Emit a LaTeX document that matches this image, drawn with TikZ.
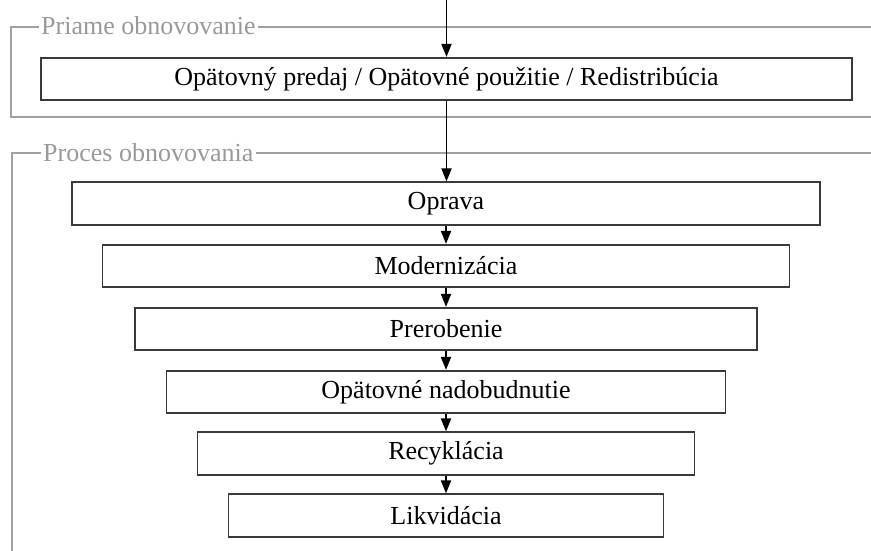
\documentclass[tikz,border=0pt]{standalone}
\usepackage{fontspec}
\setmainfont{Liberation Serif}
\usetikzlibrary{arrows.meta}
\definecolor{framegray}{HTML}{A0A0A0}
\definecolor{labelgray}{HTML}{999999}
\definecolor{boxedge}{HTML}{3A3A3A}
\begin{document}
\begin{tikzpicture}[x=1pt,y=-1pt,
  every node/.style={font=\fontsize{26}{30}\selectfont},
  stagebox/.style={draw=boxedge, line width=1.7pt, fill=white,
    minimum height=42.5pt, inner sep=0pt, text=black},
  framebar/.style={draw=framegray, line width=2.3pt},
  framelabel/.style={text=labelgray, inner sep=0pt, anchor=base west},
  flow/.style={draw=black, line width=1.9pt,
    -{Triangle[length=13pt,width=10pt]}}]
\useasboundingbox (0,0) rectangle (871,551);

% group frames with their captions
\node[framelabel] (lblA) at (41,35) {Priame obnovovanie};
\coordinate (fA1) at (11,27);
\coordinate (fA2) at (11,117);
\coordinate (fA3) at (871,117);
\coordinate (fA4) at (871,27);
\draw[framebar] ([xshift=-2pt]lblA.west |- fA1) -- (fA1) -- (fA2) -- (fA3);
\draw[framebar] ([xshift=2pt]lblA.east |- fA4) -- (fA4);

\node[framelabel] (lblB) at (43,161) {Proces obnovovania};
\coordinate (fB1) at (12,153);
\coordinate (fB2) at (12,551);
\coordinate (fB4) at (871,153);
\draw[framebar] ([xshift=-2pt]lblB.west |- fB1) -- (fB1) -- (fB2);
\draw[framebar] ([xshift=2pt]lblB.east |- fB4) -- (fB4);

% stages
\node[stagebox, minimum width=811pt] (resale) at (446.5,79) {Opätovný predaj / Opätovné použitie / Redistribúcia};
\node[stagebox, minimum width=748pt] (repair) at (446,203.5) {Oprava};
\node[stagebox, minimum width=687pt] (upgrade) at (446,266) {Modernizácia};
\node[stagebox, minimum width=622pt] (remanuf) at (446,329) {Prerobenie};
\node[stagebox, minimum width=559pt] (reacq) at (446,392) {Opätovné nadobudnutie};
\node[stagebox, minimum width=497pt] (recycle) at (446,453.5) {Recyklácia};
\node[stagebox, minimum width=435pt] (dispose) at (446,515.5) {Likvidácia};

% flow
\coordinate (entry) at (446.5,0);
\draw[flow] (entry) -- (resale.north);
\draw[flow] (resale.south) -- (resale.south |- repair.north);
\draw[flow] (repair.south) -- (upgrade.north);
\draw[flow] (upgrade.south) -- (remanuf.north);
\draw[flow] (remanuf.south) -- (reacq.north);
\draw[flow] (reacq.south) -- (recycle.north);
\draw[flow] (recycle.south) -- (dispose.north);
\end{tikzpicture}
\end{document}
